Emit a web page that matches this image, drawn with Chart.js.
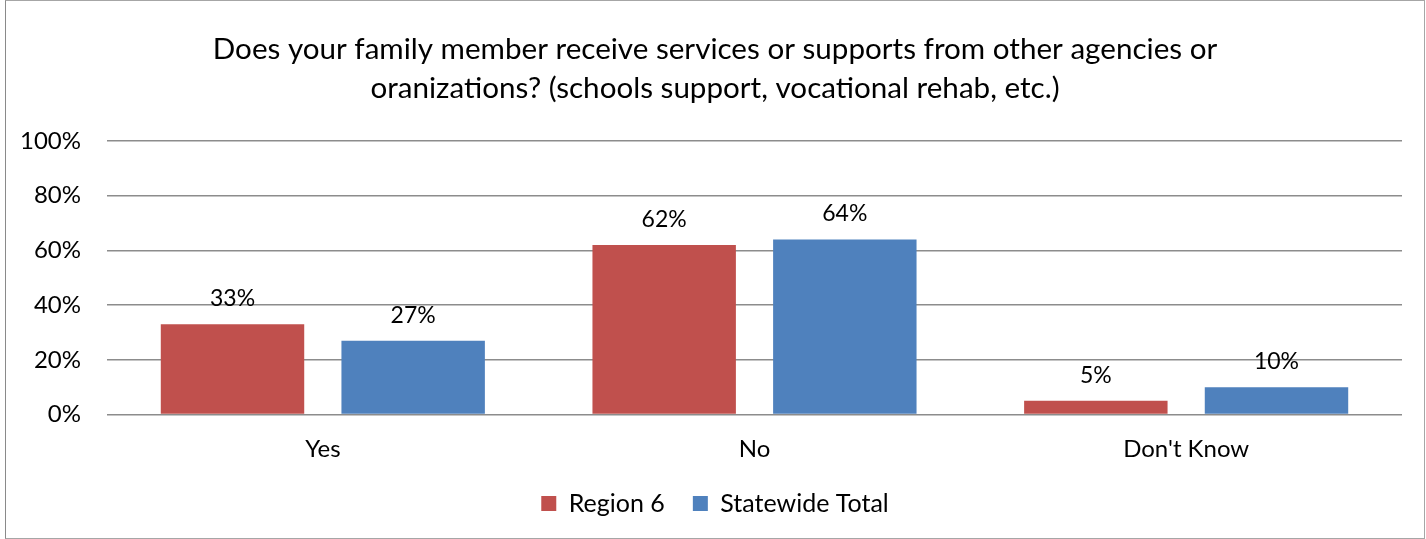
<!DOCTYPE html>
<html>
<head>
<meta charset="utf-8">
<script src="https://cdn.jsdelivr.net/npm/chart.js@4.4.1/dist/chart.umd.min.js"></script>
<style>
  html, body { margin: 0; padding: 0; background: #fff; }
  #wrap { position: relative; height: 539px; box-sizing: border-box; border: 1px solid #a6a6a6; border-left: 1px solid #8a8a8a; margin-left: 5px; width: 1420px; }
  canvas { display: block; }
</style>
</head>
<body>
<div id="wrap"><canvas id="serviceChart"></canvas></div>
<script>
const categories = ["Yes", "No", "Don't Know"];
const region6 = [33, 62, 5];
const statewide = [27, 64, 10];
const yTicks = [0, 20, 40, 60, 80, 100];
const titleLines = [
    "Does your family member receive services or supports from other agencies or",
    "oranizations? (schools support, vocational rehab, etc.)",
];

const FONT = "Lato, 'Open Sans', sans-serif";

// writes the value above each bar
const barValueLabels = {
    id: "barValueLabels",
    afterDatasetsDraw(chart) {
        const { ctx } = chart;
        ctx.save();
        ctx.font = `23px ${FONT}`;
        ctx.fillStyle = "#000";
        ctx.textAlign = "center";
        ctx.textBaseline = "bottom";
        chart.data.datasets.forEach((ds, i) => {
            chart.getDatasetMeta(i).data.forEach((bar, j) => {
                ctx.fillText(ds.data[j] + "%", bar.x, bar.y - 14);
            });
        });
        ctx.restore();
    },
};

const canvas = document.getElementById("serviceChart");
canvas.width = 1418;
canvas.height = 537;

new Chart(canvas, {
    type: "bar",
    data: {
        labels: categories,
        datasets: [
            { label: "Region 6", data: region6, backgroundColor: "#c0504d" },
            { label: "Statewide Total", data: statewide, backgroundColor: "#4f81bd" },
        ],
    },
    options: {
        responsive: false,
        animation: false,
        categoryPercentage: 0.837,
        barPercentage: 0.794,
        layout: { padding: { left: 0, right: 0, top: 0, bottom: 12 } },
        plugins: {
            title: {
                display: true,
                text: titleLines,
                color: "#000",
                font: { family: FONT, size: 29.6, weight: "normal", lineHeight: 1.35 },
                padding: { top: 28, bottom: 32 },
            },
            legend: {
                position: "bottom",
                labels: {
                    color: "#000",
                    font: { family: FONT, size: 25 },
                    boxWidth: 15,
                    boxHeight: 15,
                    padding: 28,
                },
            },
            tooltip: { enabled: false },
        },
        scales: {
            x: {
                grid: { display: false },
                border: { display: false },
                ticks: { color: "#000", font: { family: FONT, size: 24 }, padding: 12 },
                afterFit: (scale) => { scale.height = 48.5; },
            },
            y: {
                min: 0,
                max: 100,
                afterBuildTicks: (scale) => { scale.ticks = yTicks.map((v) => ({ value: v })); },
                afterFit: (scale) => { scale.width = 101; },
                grid: { color: "#8c8c8c", lineWidth: 1.5, drawTicks: false },
                border: { display: false },
                ticks: {
                    color: "#000",
                    font: { family: FONT, size: 24 },
                    padding: 26,
                    callback: (v) => v + "%",
                },
            },
            // empty right margin beside the plot, keeps title and legend centred on the frame
            yGap: {
                position: "right",
                grid: { display: false },
                border: { display: false },
                ticks: { display: false },
                afterFit: (scale) => { scale.width = 22; },
            },
        },
    },
    plugins: [barValueLabels],
});
</script>
</body>
</html>
